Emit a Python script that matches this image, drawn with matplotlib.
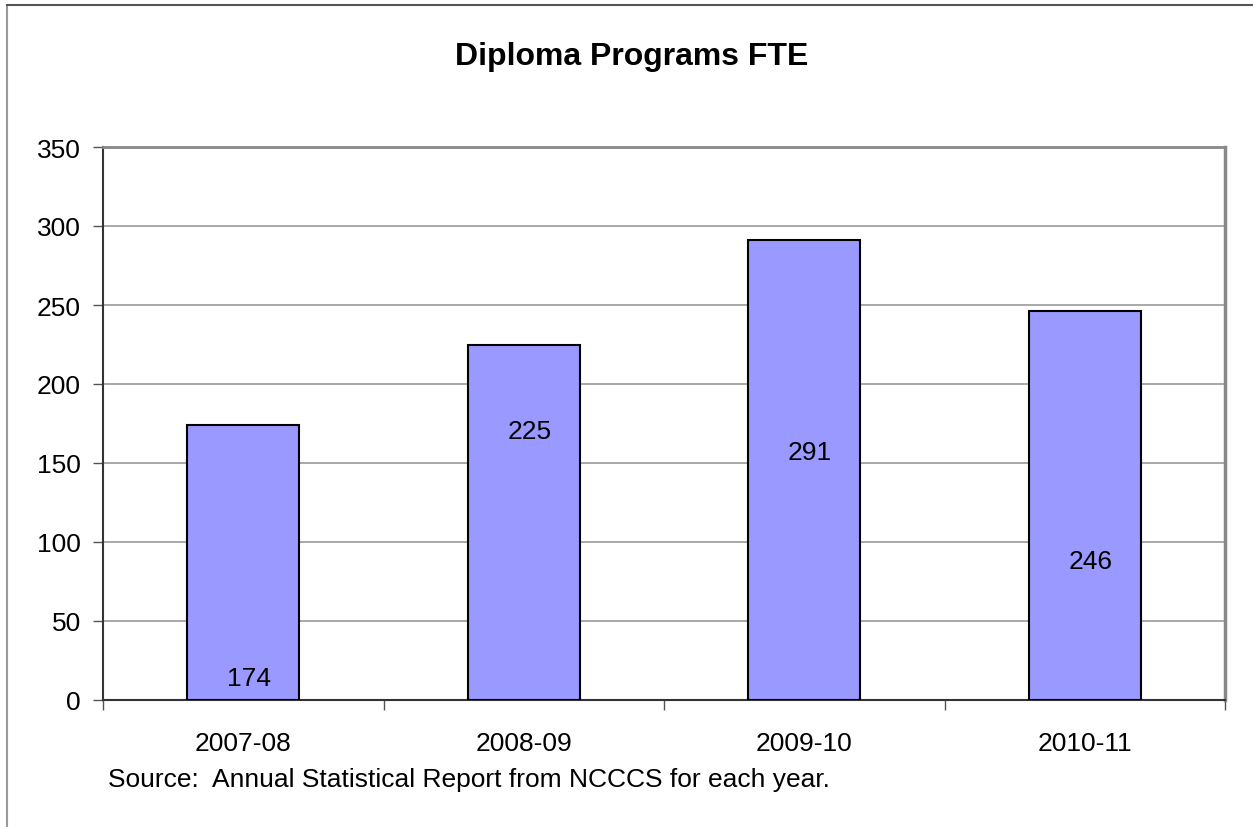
import matplotlib.pyplot as plt
from matplotlib.lines import Line2D

plt.rcParams['font.family'] = ['Liberation Sans', 'DejaVu Sans']

years = ['2007-08', '2008-09', '2009-10', '2010-11']
fte = [174, 225, 291, 246]
yticks = [0, 50, 100, 150, 200, 250, 300, 350]

fig = plt.figure(figsize=(12.53, 8.28), dpi=100)
ax = fig.add_axes([103 / 1253, 1 - 701 / 828, 1122 / 1253, 553 / 828])

x = range(len(years))
bars = ax.bar(x, fte, width=0.4, color='#9999ff', edgecolor='black', linewidth=1.5, zorder=3)

# value labels sit inside the bars at different heights
label_y = [14, 170, 157, 88]
for xi, v, ly in zip(x, fte, label_y):
    ax.text(xi + 0.02, ly, str(v), ha='center', va='center', fontsize=19, zorder=4)

ax.set_xlim(-0.5, len(years) - 0.5)
ax.set_ylim(0, 350)
ax.set_yticks(yticks)
ax.set_yticklabels([str(t) for t in yticks], fontsize=19)
ax.yaxis.grid(True, color='#999999', linewidth=1.2, zorder=0)
ax.tick_params(axis='y', length=7, width=1, color='#555555', pad=9)

ax.set_xticks(list(x))
ax.set_xticklabels(years, fontsize=19)
ax.set_xticks([i - 0.5 for i in range(len(years) + 1)], minor=True)
ax.tick_params(axis='x', which='major', length=0, pad=22)
ax.tick_params(axis='x', which='minor', length=7, width=1, color='#555555')

ax.spines['left'].set_color('#333333')
ax.spines['bottom'].set_color('#333333')
ax.spines['left'].set_linewidth(1.5)
ax.spines['bottom'].set_linewidth(1.5)
ax.spines['top'].set_color('#888888')
ax.spines['right'].set_color('#888888')
ax.spines['top'].set_linewidth(2)
ax.spines['right'].set_linewidth(2.5)

fig.text(632 / 1253, 1 - 57 / 828, 'Diploma Programs FTE', ha='center', va='center',
         fontsize=23, fontweight='bold')
fig.text(108 / 1253, 1 - 780 / 828, 'Source:  Annual Statistical Report from NCCCS for each year.',
         ha='left', va='center', fontsize=19)

# outer chart frame
fig.add_artist(Line2D([7 / 1253, 7 / 1253], [0, 1 - 6 / 828], color='#999999', linewidth=1.5))
fig.add_artist(Line2D([7 / 1253, 1], [1 - 6 / 828, 1 - 6 / 828], color='#555555', linewidth=1.5))

fig.savefig('out.png', dpi=100)
